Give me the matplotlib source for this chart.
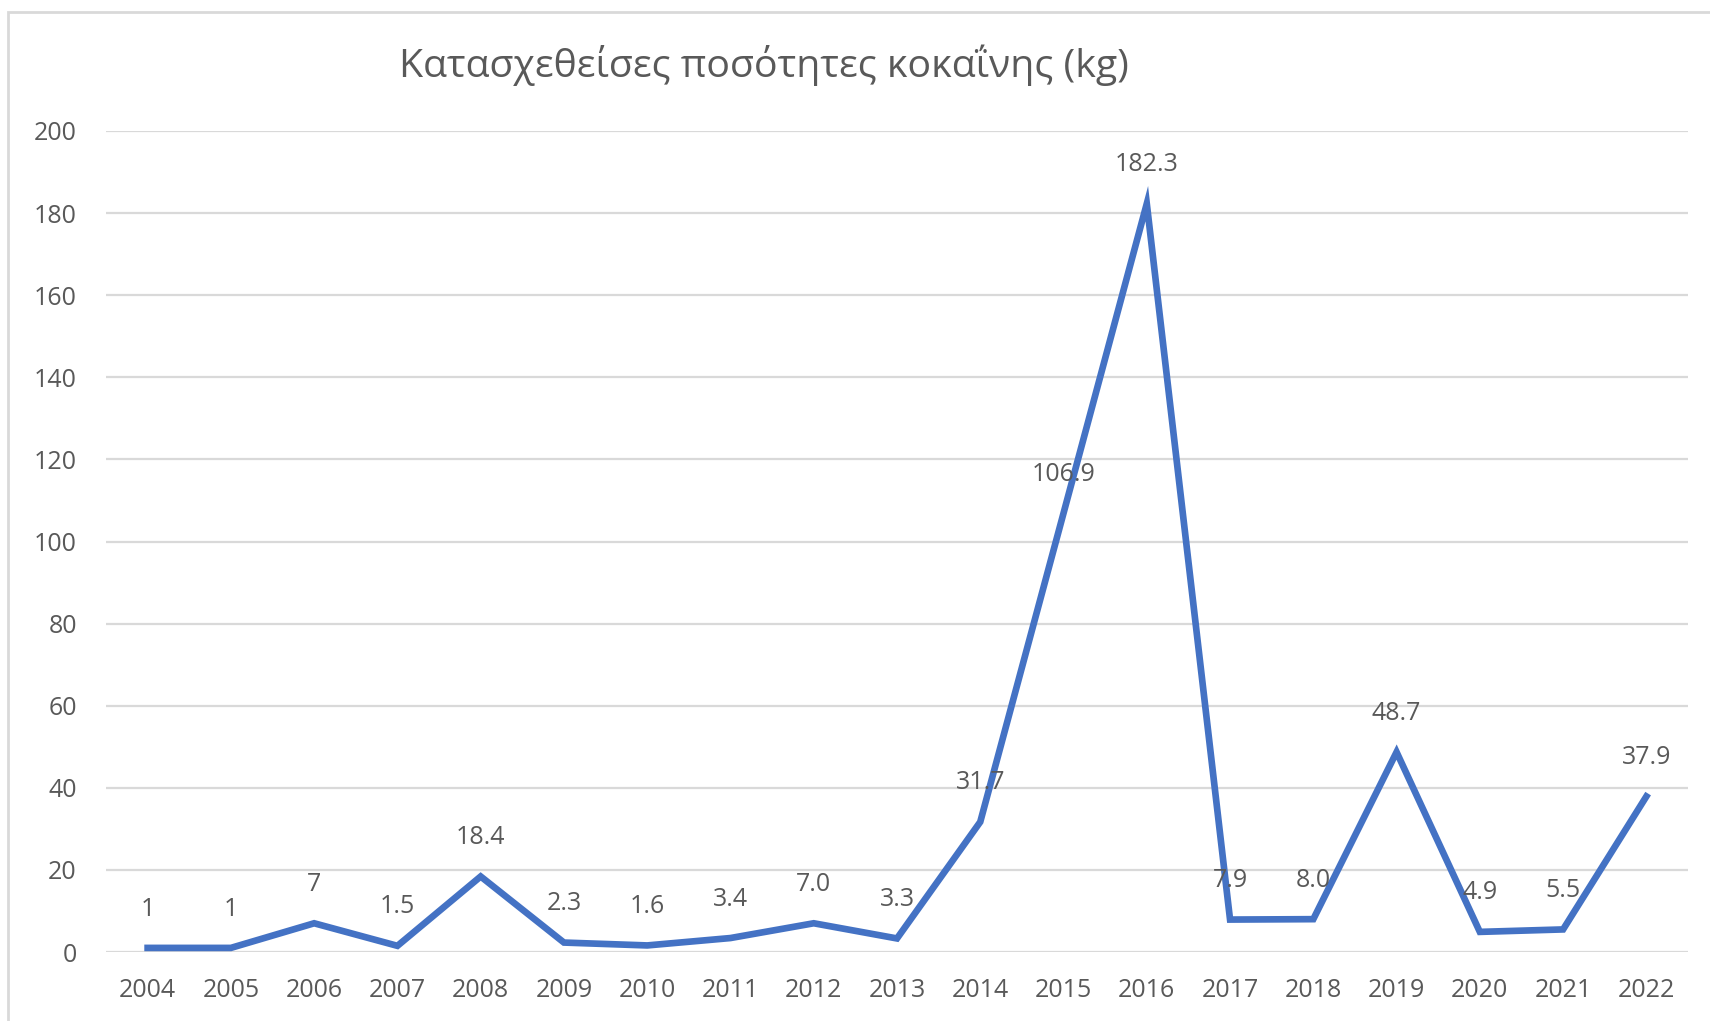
import matplotlib.pyplot as plt
import matplotlib.patches as patches

plt.rcParams['font.family'] = ['Open Sans', 'DejaVu Sans']

# data
years = ['2004', '2005', '2006', '2007', '2008', '2009', '2010', '2011', '2012', '2013',
         '2014', '2015', '2016', '2017', '2018', '2019', '2020', '2021', '2022']
values = [1, 1, 7, 1.5, 18.4, 2.3, 1.6, 3.4, 7.0, 3.3,
          31.7, 106.9, 182.3, 7.9, 8.0, 48.7, 4.9, 5.5, 37.9]
labels = ['1', '1', '7', '1.5', '18.4', '2.3', '1.6', '3.4', '7.0', '3.3',
          '31.7', '106.9', '182.3', '7.9', '8.0', '48.7', '4.9', '5.5', '37.9']
yticks = [0, 20, 40, 60, 80, 100, 120, 140, 160, 180, 200]

title = 'Κατασχεθείσες ποσότητες κοκαΐνης (kg)'
text_color = '#595959'
line_color = '#4472C4'

W, H = 1710, 1021
fig = plt.figure(figsize=(W / 100, H / 100), dpi=100)

# plot area in pixel terms
left, right, top, bottom = 106, 1688, 131, 952
ax = fig.add_axes([left / W, 1 - bottom / H, (right - left) / W, (bottom - top) / H])

x = list(range(len(years)))
ax.plot(x, values, color=line_color, linewidth=4.8, solid_joinstyle='miter', zorder=3)

for xi, v, lab in zip(x, values, labels):
    ax.annotate(lab, (xi, v), xytext=(0, 28), textcoords='offset points',
                ha='center', va='center', fontsize=18, color=text_color, zorder=4)

ax.set_xlim(-0.5, len(years) - 0.5)
ax.set_ylim(0, 200)
ax.set_yticks(yticks)
ax.set_xticks(x)
ax.set_xticklabels(years)
ax.grid(axis='y', color='#D9D9D9', linewidth=1.6, zorder=0)
ax.tick_params(axis='both', length=0, labelsize=18, labelcolor=text_color)
ax.tick_params(axis='x', pad=19)
ax.tick_params(axis='y', pad=21)
for s in ax.spines.values():
    s.set_visible(False)

fig.text(764 / W, 1 - 65 / H, title, ha='center', va='center', fontsize=28.3, color=text_color)

# light border of the chart frame (top and left edges visible)
fig.patches.append(patches.Rectangle((8 / W, -0.1), 1.2, 1 - 12 / H + 0.1,
                                     transform=fig.transFigure, fill=False,
                                     edgecolor='#D9D9D9', linewidth=2))

fig.savefig('out.png', dpi=100)
